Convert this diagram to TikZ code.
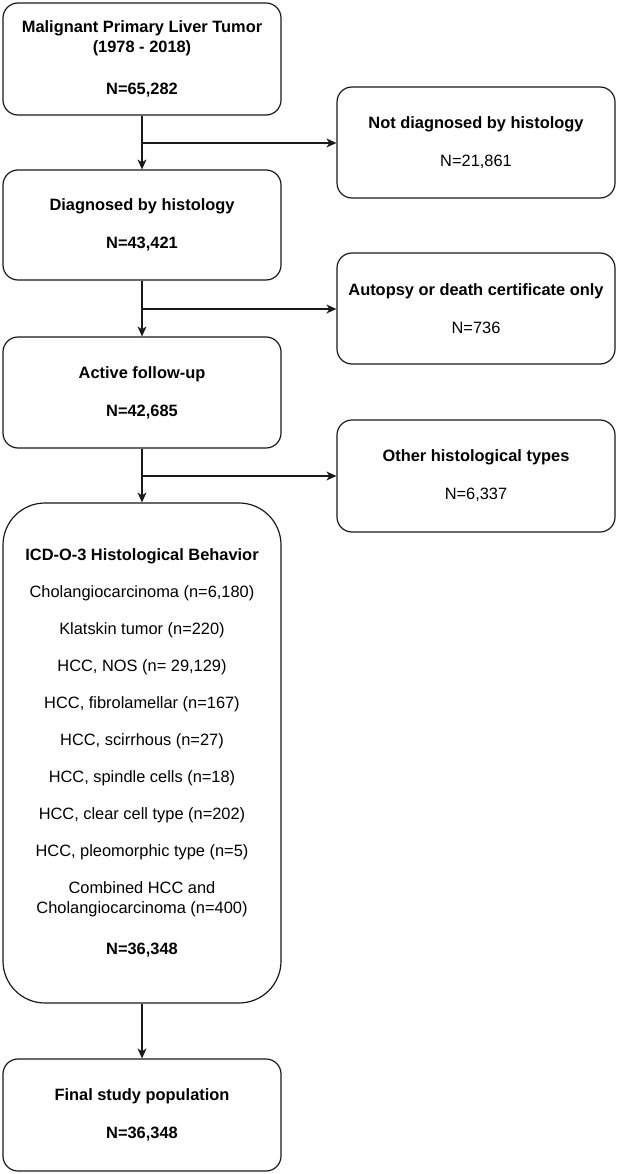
\documentclass[tikz,border=0pt]{standalone}
\usepackage{fontspec}
\setmainfont{Liberation Sans}
\usetikzlibrary{arrows.meta}
\begin{document}
\begin{tikzpicture}[x=1pt,y=-1pt,
  box/.style={draw=black!90, line width=1.2pt, rectangle, rounded corners=15pt,
    minimum width=278pt, inner sep=0pt, align=center,
    font=\fontsize{16.4}{20}\selectfont},
  arr/.style={line width=1.2pt, draw=black!90, -{Stealth[length=10pt,width=9pt,inset=3pt]}},
  line/.style={line width=1.2pt, draw=black!90}]
\useasboundingbox (0,0) rectangle (619,1174);

\node[box, minimum height=112pt] (b1) at (142,59)
  {\textbf{Malignant Primary Liver Tumor}\\\textbf{(1978 - 2018)}\\[22pt]\textbf{N=65,282}};
\node[box, minimum height=111pt] (r1) at (476,142.5)
  {\textbf{Not diagnosed by histology}\\[18pt]N=21,861};
\node[box, minimum height=110pt] (b2) at (142,225)
  {\textbf{Diagnosed by histology}\\[18pt]\textbf{N=43,421}};
\node[box, minimum height=111pt] (r2) at (476,308.5)
  {\textbf{Autopsy or death certificate only}\\[18pt]N=736};
\node[box, minimum height=111pt] (b3) at (142,392.5)
  {\textbf{Active follow-up}\\[18pt]\textbf{N=42,685}};
\node[box, minimum height=112pt] (r3) at (476,476)
  {\textbf{Other histological types}\\[18pt]N=6,337};
\node[box, minimum height=500pt, rounded corners=42pt] (b4) at (142,753)
  {\textbf{ICD-O-3 Histological Behavior}\\[17pt]
   Cholangiocarcinoma (n=6,180)\\[17pt]
   Klatskin tumor (n=220)\\[17pt]
   HCC, NOS (n= 29,129)\\[17pt]
   HCC, fibrolamellar (n=167)\\[17pt]
   HCC, scirrhous (n=27)\\[17pt]
   HCC, spindle cells (n=18)\\[17pt]
   HCC, clear cell type (n=202)\\[17pt]
   HCC, pleomorphic type (n=5)\\[17pt]
   Combined HCC and\\
   Cholangiocarcinoma (n=400)\\[21pt]
   \textbf{N=36,348}};
\node[box, minimum height=112pt] (b5) at (142,1115)
  {\textbf{Final study population}\\[18pt]\textbf{N=36,348}};

\coordinate (j1) at (142,143);
\coordinate (j2) at (142,309);
\coordinate (j3) at (142,476);

\draw[arr] (b1.south) -- (b2.north);
\draw[arr] (b2.south) -- (b3.north);
\draw[arr] (b3.south) -- (b4.north);
\draw[arr] (b4.south) -- (b5.north);
\draw[arr] (j1) -- (j1 -| r1.west);
\draw[arr] (j2) -- (j2 -| r2.west);
\draw[arr] (j3) -- (j3 -| r3.west);
\end{tikzpicture}
\end{document}
